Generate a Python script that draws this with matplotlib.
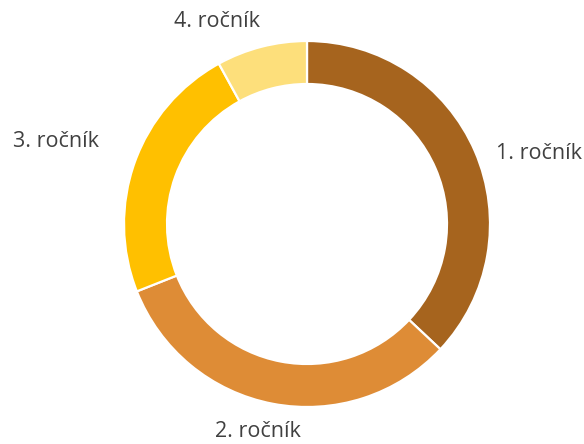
import numpy as np
import matplotlib
matplotlib.use("Agg")
import matplotlib.pyplot as plt

# podíl studentů podle ročníku
rocniky = ["1. ročník", "2. ročník", "3. ročník", "4. ročník"]
hodnoty = [37, 32, 23, 8]
barvy = ["#A6641E", "#DE8C36", "#FFC000", "#FDDF7B"]

plt.rcParams['font.family'] = ['Open Sans', 'DejaVu Sans']

fig = plt.figure(figsize=(5.84, 4.44), dpi=100)
ax = fig.add_axes([124 / 584, 37 / 444, 366 / 584, 366 / 444])

wedges, _ = ax.pie(hodnoty, colors=barvy, startangle=90, counterclock=False,
                   radius=1.0, wedgeprops=dict(width=0.235, edgecolor="white", linewidth=1.6))
ax.set_xlim(-1, 1)
ax.set_ylim(-1, 1)

# popisky: od vnějšího okraje ve středu výseče, posun v pixelech
posuny = [(64, -8), (-15, -33), (-79, 15), (-44, 20)]
for w, txt, (dx, dy) in zip(wedges, rocniky, posuny):
    ang = np.deg2rad((w.theta1 + w.theta2) / 2)
    ax.annotate(txt, xy=(np.cos(ang), np.sin(ang)), xytext=(dx, dy),
                textcoords="offset pixels", ha="center", va="baseline",
                fontsize=15.5, color="#404040", annotation_clip=False)

fig.savefig("out.png", dpi=100)
